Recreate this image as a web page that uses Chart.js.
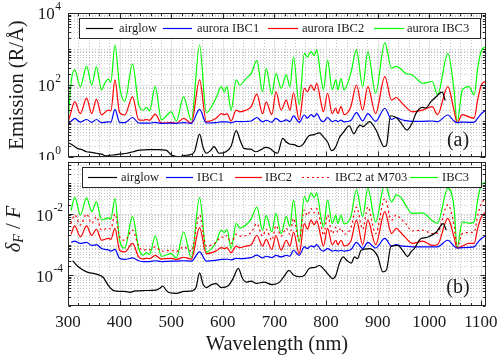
<!DOCTYPE html>
<html lang="en">
<head>
<meta charset="UTF-8">
<title>Emission and relative uncertainty spectra</title>
<script src="https://cdn.jsdelivr.net/npm/chart.js"></script>
<style>
  html, body { margin: 0; padding: 0; background: #fff; }
  #wrap { position: relative; width: 500px; height: 361px; }
  #topWrap { position: absolute; left: 0; top: 0; width: 500px; height: 160px; }
  #botWrap { position: absolute; left: 0; top: 160px; width: 500px; height: 201px; }
</style>
</head>
<body>
<div id="wrap">
  <div id="topWrap"><canvas id="emisChart"></canvas></div>
  <div id="botWrap"><canvas id="dffChart"></canvas></div>
</div>

<script>
// ---- data ----
const xTicks = [300, 400, 500, 600, 700, 800, 900, 1000, 1100];

// wavelength grid shared by the aurora curves (nm)
const wlAurora = [300, 306, 313, 324, 336, 346, 355, 365, 371, 378,
  383, 391, 400, 410, 425, 437, 446, 452, 458, 469,
  481, 500, 510, 524, 539, 555, 568, 587, 597, 603,
  608, 616, 626, 633, 645, 655, 666, 677, 684, 695,
  703, 713, 723, 730, 737, 748, 758, 764, 771, 777,
  782, 790, 795, 803, 812, 819, 823, 829, 835, 848,
  859, 871, 881, 896, 914, 927, 936, 945, 954, 967,
  987, 1006, 1016, 1036, 1048, 1054, 1064, 1077, 1087, 1094,
  1101, 1110];

// panel (a): emission, R/A
const emisIBC3 = [8.8, 120, 262, 90, 336, 100, 320, 73, 110, 146,
  120, 1290, 90, 35, 380, 28, 20, 24, 19, 90,
  10.7, 18, 10, 47, 10.5, 1290, 17, 44, 90, 65,
  90, 20, 138, 100, 150, 210, 475, 65, 290, 55,
  210, 81, 190, 90, 610, 28, 760, 600, 850, 650,
  940, 170, 73, 490, 73, 138, 73, 150, 73, 210,
  940, 90, 850, 59, 1500, 290, 330, 280, 210, 190,
  112, 125, 53, 760, 73, 9, 73, 90, 53, 300,
  900, 1150];
const emisIBC2 = [8.8, 18, 34.5, 16, 43, 16, 40, 14.7, 17, 20,
  19, 138, 17, 14.7, 47, 10.7, 10.5, 11, 10.5, 15.6,
  8.7, 9.2, 8.6, 11.9, 8.7, 138, 9.6, 11.9, 16, 15,
  16, 10, 20, 18, 20, 25, 56, 16, 34, 15,
  65, 20, 38, 20, 61, 10.7, 81, 65, 100, 71,
  112, 34, 18, 59, 16, 23, 16, 25, 15, 25,
  100, 20, 90, 16, 170, 38, 45, 34, 25, 18,
  20, 25, 15, 90, 20, 9, 15, 13, 12, 40,
  100, 128];
const emisIBC1 = [8.6, 9.8, 11.9, 9.3, 11, 9.2, 11, 9, 9.2, 9.5,
  9.3, 21, 9.2, 9, 12.5, 8.8, 8.7, 8.7, 8.7, 9.2,
  8.6, 8.7, 8.6, 9, 8.6, 21, 8.8, 9, 9.5, 9.4,
  9.5, 8.9, 9.8, 9.6, 9.7, 10, 12.5, 9.4, 10.5, 9.3,
  11.9, 9.6, 10.8, 9.6, 13.8, 9.2, 14.7, 12, 15, 13,
  16, 10.5, 9.6, 12.5, 9.6, 10.5, 9.6, 10.6, 9.5, 10.3,
  17, 10, 16, 9.8, 22.6, 11, 12.5, 11, 10.3, 9.8,
  9.8, 10, 9.6, 14.7, 10, 9, 9.3, 9.2, 9.3, 12,
  16, 20];

const wlAirglow = [300, 310, 318, 327, 336, 345, 355, 365, 374, 382,
  391, 400, 414, 426, 439, 458, 475, 490, 500, 508,
  516, 525, 535, 545, 555, 562, 568, 576, 583, 593,
  606, 616, 626, 634, 641, 654, 664, 674, 683, 692,
  699, 706, 716, 723, 729, 738, 748, 755, 761, 767,
  777, 787, 795, 803, 811, 819, 826, 832, 845, 854,
  861, 866, 872, 884, 897, 905, 912, 917, 925, 936,
  945, 957, 963, 967, 974, 986, 993, 1003, 1012, 1025,
  1031];
const emisAirglow = [2.5, 2.1, 1.74, 1.6, 1.4, 1.35, 1.27, 1.2, 1.07, 1.12,
  1.15, 1.2, 1.27, 1.4, 1.56, 1.6, 1.6, 1.56, 1.15, 1.05,
  1.02, 1.1, 1.15, 1.4, 4.3, 1.8, 1.27, 1.5, 1.94, 1.27,
  1.4, 2.0, 5.4, 2.8, 1.74, 1.65, 1.4, 1.6, 1.85, 1.7,
  1.4, 1.27, 3.3, 2.6, 2.3, 2.2, 1.94, 2.2, 3.0, 3.9,
  4.2, 4.7, 3.6, 2.6, 1.5, 1.94, 3.5, 4.5, 7.3, 4.4,
  6.5, 7.7, 7.0, 9.6, 5.6, 3.0, 1.94, 2.1, 14, 12.5,
  9, 5.6, 7, 8.8, 16, 24, 23, 34, 45, 63,
  37];

// panel (b): relative uncertainty dF/F
const dffIBC3 = [null, 0.013, 0.035, 0.0093, 0.034, 0.012, 0.025, 0.0065, 0.0068, 0.0075,
  0.007, 0.032, 0.0014, 0.00078, 0.0082, 0.00075, 0.00046, 0.00055, 0.00048, 0.0019,
  0.00042, 0.00051, 0.00037, 0.0026, 0.00038, 0.035, 0.00058, 0.0012, 0.003, 0.0025,
  0.0032, 0.00075, 0.005, 0.0035, 0.0045, 0.007, 0.017, 0.003, 0.009, 0.0026,
  0.0105, 0.0023, 0.0082, 0.004, 0.029, 0.0012, 0.037, 0.025, 0.048, 0.035,
  0.048, 0.0082, 0.0038, 0.029, 0.0049, 0.009, 0.005, 0.009, 0.0048, 0.008,
  0.062, 0.0082, 0.069, 0.0056, 0.10, 0.025, 0.042, 0.035, 0.02, 0.0105,
  0.011, 0.006, 0.005, 0.069, 0.017, 0.0008, 0.0056, 0.005, 0.0055, 0.03,
  0.09, 0.11];
const dffIBC2 = [null, 0.0022, 0.0041, 0.0018, 0.0041, 0.002, 0.0032, 0.0014, 0.0015, 0.0016,
  0.0015, 0.0034, 0.00066, 0.00058, 0.0011, 0.0004, 0.00034, 0.00036, 0.00035, 0.00045,
  0.00034, 0.00036, 0.00033, 0.00039, 0.00034, 0.0036, 0.00051, 0.00063, 0.0008, 0.00075,
  0.0008, 0.00055, 0.0009, 0.0008, 0.0009, 0.001, 0.002, 0.0009, 0.0015, 0.0007,
  0.002, 0.00066, 0.0014, 0.0009, 0.0026, 0.00051, 0.0049, 0.0032, 0.0063, 0.0045,
  0.006, 0.0018, 0.0009, 0.0034, 0.001, 0.0014, 0.001, 0.0014, 0.00092, 0.0013,
  0.0063, 0.001, 0.0063, 0.001, 0.012, 0.0023, 0.0034, 0.0025, 0.0017, 0.0011,
  0.0013, 0.00095, 0.001, 0.0072, 0.0018, 0.00078, 0.0009, 0.0011, 0.0011, 0.0035,
  0.008, 0.012];
const dffIBC2M703 = [null, 0.005, 0.0093, 0.0044, 0.01, 0.005, 0.0082, 0.003, 0.0032, 0.0035,
  0.0033, 0.01, 0.0018, 0.0014, 0.003, 0.0009, 0.00066, 0.0007, 0.00068, 0.00085,
  0.00062, 0.00065, 0.0006, 0.00085, 0.00062, 0.0093, 0.0009, 0.0012, 0.0018, 0.0017,
  0.002, 0.0011, 0.0022, 0.0019, 0.002, 0.0025, 0.0049, 0.0019, 0.0032, 0.0014,
  0.0042, 0.0019, 0.0034, 0.0022, 0.0072, 0.0014, 0.0135, 0.009, 0.015, 0.011,
  0.015, 0.0049, 0.002, 0.0093, 0.0023, 0.0037, 0.0025, 0.0035, 0.0022, 0.0035,
  0.017, 0.0032, 0.017, 0.0023, 0.032, 0.0063, 0.0093, 0.007, 0.005, 0.0028,
  0.003, 0.0023, 0.0024, 0.02, 0.0045, 0.0008, 0.0023, 0.0025, 0.0026, 0.009,
  0.022, 0.032];
const dffIBC1 = [null, 0.0012, 0.0013, 0.0011, 0.0012, 0.00095, 0.001, 0.00075, 0.0007, 0.00068,
  0.00062, 0.0007, 0.00036, 0.00033, 0.00037, 0.0003, 0.00028, 0.00028, 0.00028, 0.0003,
  0.00028, 0.00029, 0.00029, 0.0003, 0.00029, 0.00058, 0.00029, 0.00031, 0.00033, 0.00033,
  0.00034, 0.00032, 0.00036, 0.00035, 0.00036, 0.00038, 0.00046, 0.00037, 0.00042, 0.00038,
  0.00045, 0.0004, 0.00045, 0.00042, 0.00066, 0.00045, 0.00085, 0.00075, 0.00092, 0.00085,
  0.001, 0.00068, 0.00062, 0.00075, 0.00062, 0.00065, 0.00062, 0.00065, 0.00062, 0.00068,
  0.0012, 0.00075, 0.0012, 0.00078, 0.0016, 0.0009, 0.001, 0.00092, 0.00088, 0.00085,
  0.00085, 0.00085, 0.00085, 0.0014, 0.0009, 0.00078, 0.0008, 0.00082, 0.00085, 0.0012,
  0.0016, 0.002];

const wlAirglowB = [309, 320, 336, 355, 368, 378, 388, 400, 410, 420,
  430, 450, 470, 478, 484, 490, 497, 510, 525, 540,
  548, 555, 562, 568, 578, 587, 597, 610, 620, 630,
  638, 645, 655, 665, 680, 695, 710, 720, 728, 738,
  748, 758, 768, 778, 787, 797, 806, 813, 819, 826,
  833, 841, 849, 855, 861, 868, 884, 900, 910, 917,
  926, 939, 950, 958, 965, 971, 984, 993, 1001, 1014,
  1027, 1033];
const dffAirglow = [0.0003, 0.00019, 0.00013, 0.00011, 0.000087, 0.000047, 0.000032, 0.00003, 0.00003, 0.000028,
  0.000031, 0.000032, 0.000033, 0.000038, 0.000045, 0.000033, 0.000027, 0.000026, 0.00003, 0.000031,
  0.00004, 0.00012, 0.00005, 0.00004, 0.00005, 0.000054, 0.00004, 0.000045, 0.00008, 0.00017,
  0.00008, 0.00006, 0.000065, 0.000055, 0.00006, 0.00005, 0.00006, 0.0001, 0.000145, 0.0001,
  0.00009, 0.0001, 0.00017, 0.00018, 0.00021, 0.00015, 0.0001, 0.000077, 0.0001, 0.00025,
  0.0004, 0.0003, 0.00025, 0.0004, 0.00035, 0.00066, 0.00075, 0.00042, 0.00013, 0.00015,
  0.00089, 0.00095, 0.0006, 0.00041, 0.0006, 0.00075, 0.0016, 0.0017, 0.0019, 0.0026,
  0.0049, 0.003];

// ---- helpers ----
const SERIF = '"Liberation Serif", "Times New Roman", serif';
const INK = '#1a1a1a';

function pts(xs, ys) {
  const out = [];
  xs.forEach((x, i) => { if (ys[i] != null) out.push({ x: x, y: ys[i] }); });
  return out;
}

function series(label, xs, ys, color, dash) {
  return {
    label: label,
    data: pts(xs, ys),
    borderColor: color,
    borderWidth: 1.2,
    borderDash: dash || [],
    pointRadius: 0,
    fill: false,
    cubicInterpolationMode: 'monotone'
  };
}

function drawGrid(chart, cfg) {
  const { ctx, chartArea: a, scales } = chart;
  const xs = scales.x, ys = scales.y;
  ctx.save();
  ctx.lineWidth = 1;
  // minor grid (dotted)
  ctx.strokeStyle = '#c4c4c4';
  ctx.setLineDash([1, 2]);
  ctx.beginPath();
  for (let v = 320; v < 1110; v += 20) {
    if (v % 100 === 0) continue;
    const px = Math.round(xs.getPixelForValue(v)) + 0.5;
    ctx.moveTo(px, a.top); ctx.lineTo(px, a.bottom);
  }
  for (let e = cfg.eMin; e <= cfg.eMax; e++) {
    for (let m = 1; m <= 9; m++) {
      if (m === 1 && cfg.yMajor.includes(e)) continue;
      const v = m * Math.pow(10, e);
      if (v <= ys.min * 1.0001 || v >= ys.max * 0.9999) continue;
      const py = Math.round(ys.getPixelForValue(v)) + 0.5;
      ctx.moveTo(a.left, py); ctx.lineTo(a.right, py);
    }
  }
  ctx.stroke();
  // major grid (solid, light)
  ctx.setLineDash([]);
  ctx.strokeStyle = '#e2e2e2';
  ctx.beginPath();
  xTicks.forEach(v => {
    const px = Math.round(xs.getPixelForValue(v)) + 0.5;
    ctx.moveTo(px, a.top); ctx.lineTo(px, a.bottom);
  });
  cfg.yMajor.forEach(e => {
    const py = Math.round(ys.getPixelForValue(Math.pow(10, e))) + 0.5;
    ctx.moveTo(a.left, py); ctx.lineTo(a.right, py);
  });
  ctx.stroke();
  ctx.restore();
}

function drawFrame(chart, cfg) {
  const { ctx, chartArea: a, scales } = chart;
  const xs = scales.x, ys = scales.y;
  const L = Math.round(a.left) + 0.5, R = Math.round(a.right) - 0.5;
  const T = Math.round(a.top) + 0.5, B = Math.round(a.bottom) - 0.5;
  ctx.save();
  ctx.strokeStyle = '#262626';
  ctx.lineWidth = 1;
  ctx.strokeRect(L, T, R - L, B - T);
  ctx.beginPath();
  for (let v = 300; v <= 1110; v += 20) {
    const len = v % 100 === 0 ? 5 : 2.5;
    const px = Math.round(xs.getPixelForValue(v)) + 0.5;
    ctx.moveTo(px, B); ctx.lineTo(px, B - len);
    ctx.moveTo(px, T); ctx.lineTo(px, T + len);
  }
  for (let e = cfg.eMin; e <= cfg.eMax; e++) {
    for (let m = 1; m <= 9; m++) {
      const v = m * Math.pow(10, e);
      if (v < ys.min * 0.9999 || v > ys.max * 1.0001) continue;
      const len = (m === 1 && cfg.yMajor.includes(e)) ? 5 : 2.5;
      const py = Math.round(ys.getPixelForValue(v)) + 0.5;
      ctx.moveTo(L, py); ctx.lineTo(L + len, py);
      ctx.moveTo(R, py); ctx.lineTo(R - len, py);
    }
  }
  ctx.stroke();

  // y tick labels 10^n
  ctx.fillStyle = INK;
  ctx.textBaseline = 'middle';
  ctx.textAlign = 'right';
  cfg.yMajor.forEach(e => {
    const py = ys.getPixelForValue(Math.pow(10, e));
    const ex = String(e);
    ctx.font = '11.5px ' + SERIF;
    const w = ctx.measureText(ex).width;
    ctx.fillText(ex, cfg.yLabelRight, py - 6);
    ctx.font = '17px ' + SERIF;
    ctx.fillText('10', cfg.yLabelRight - w - 0.5, py + 2);
  });
  ctx.restore();
}

function drawLegend(chart, lg) {
  const { ctx } = chart;
  const ds = chart.data.datasets;
  ctx.save();
  ctx.fillStyle = '#fff';
  ctx.fillRect(lg.box[0], lg.box[1], lg.box[2], lg.box[3]);
  ctx.strokeStyle = '#262626';
  ctx.lineWidth = 1;
  ctx.strokeRect(lg.box[0] + 0.5, lg.box[1] + 0.5, lg.box[2] - 1, lg.box[3] - 1);
  ctx.font = '12.5px ' + SERIF;
  ctx.textBaseline = 'middle';
  ctx.textAlign = 'left';
  lg.items.forEach(it => {
    const d = ds[it.ds];
    ctx.strokeStyle = d.borderColor;
    ctx.lineWidth = 1.2;
    ctx.setLineDash(d.borderDash || []);
    ctx.beginPath();
    ctx.moveTo(it.x0, lg.y + 0.5); ctx.lineTo(it.x1, lg.y + 0.5);
    ctx.stroke();
    ctx.setLineDash([]);
    ctx.fillStyle = INK;
    ctx.fillText(d.label, it.tx, lg.y + 1);
  });
  ctx.restore();
}

function decor(cfg) {
  return {
    id: 'decor',
    beforeDatasetsDraw(chart) { drawGrid(chart, cfg); },
    afterDatasetsDraw(chart) {
      drawFrame(chart, cfg);
      drawLegend(chart, cfg.legend);
      cfg.extra(chart);
    }
  };
}

function baseOptions(pad, yMin, yMax) {
  return {
    responsive: true,
    maintainAspectRatio: false,
    animation: false,
    devicePixelRatio: 1,
    layout: { padding: pad },
    plugins: { legend: { display: false }, tooltip: { enabled: false } },
    scales: {
      x: { type: 'linear', min: 300, max: 1110, display: false },
      y: { type: 'logarithmic', min: yMin, max: yMax, display: false }
    }
  };
}

// ---- panel (a) ----
new Chart(document.getElementById('emisChart'), {
  type: 'line',
  data: {
    datasets: [
      series('airglow', wlAirglow, emisAirglow, '#000000'),
      series('aurora IBC1', wlAurora, emisIBC1, '#0000ff'),
      series('aurora IBC2', wlAurora, emisIBC2, '#ff0000'),
      series('aurora IBC3', wlAurora, emisIBC3, '#00ff00')
    ]
  },
  options: baseOptions({ left: 68, right: 14, top: 13, bottom: 3 }, 1, 10000),
  plugins: [decor({
    eMin: 0, eMax: 4, yMajor: [0, 2, 4], yLabelRight: 61,
    legend: {
      box: [79, 18, 402, 21], y: 28,
      items: [
        { ds: 0, x0: 86, x1: 113, tx: 119 },
        { ds: 1, x0: 163, x1: 192, tx: 197 },
        { ds: 2, x0: 268, x1: 298, tx: 302 },
        { ds: 3, x0: 374, x1: 404, tx: 407 }
      ]
    },
    extra(chart) {
      const ctx = chart.ctx;
      ctx.save();
      ctx.fillStyle = INK;
      ctx.textAlign = 'center';
      ctx.textBaseline = 'middle';
      ctx.font = '20px ' + SERIF;
      ctx.fillText('(a)', 458, 141);
      ctx.translate(18, 85);
      ctx.rotate(-Math.PI / 2);
      ctx.font = '20.5px ' + SERIF;
      ctx.fillText('Emission (R/Å)', 0, 0);
      ctx.restore();
    }
  })]
});

// ---- panel (b) ----
new Chart(document.getElementById('dffChart'), {
  type: 'line',
  data: {
    datasets: [
      series('airglow', wlAirglowB, dffAirglow, '#000000'),
      series('IBC1', wlAurora, dffIBC1, '#0000ff'),
      series('IBC2', wlAurora, dffIBC2, '#ff0000'),
      series('IBC2 at M703', wlAurora, dffIBC2M703, '#ff0000', [2, 3]),
      series('IBC3', wlAurora, dffIBC3, '#00ff00')
    ]
  },
  options: baseOptions({ left: 68, right: 14, top: 2, bottom: 55 }, 1e-5, 0.5),
  plugins: [decor({
    eMin: -5, eMax: -1, yMajor: [-4, -2], yLabelRight: 63,
    legend: {
      box: [82, 7, 400, 21], y: 17,
      items: [
        { ds: 0, x0: 88, x1: 117, tx: 121 },
        { ds: 1, x0: 166, x1: 193, tx: 197 },
        { ds: 2, x0: 235, x1: 262, tx: 265 },
        { ds: 3, x0: 302, x1: 332, tx: 335 },
        { ds: 4, x0: 410, x1: 438, tx: 442 }
      ]
    },
    extra(chart) {
      const { ctx, chartArea: a, scales } = chart;
      ctx.save();
      ctx.fillStyle = INK;
      ctx.textAlign = 'center';
      ctx.textBaseline = 'middle';
      ctx.font = '20px ' + SERIF;
      ctx.fillText('(b)', 458, 128);
      // x tick labels
      ctx.font = '17px ' + SERIF;
      xTicks.forEach(v => ctx.fillText(String(v), scales.x.getPixelForValue(v), 163));
      ctx.font = '20.5px ' + SERIF;
      ctx.fillText('Wavelength (nm)', (a.left + a.right) / 2, 185);
      // y title: delta_F / F
      ctx.translate(15, 69);
      ctx.rotate(-Math.PI / 2);
      const parts = [
        { t: '\u03b4', f: 'italic 20.5px ' + SERIF, dy: 0 },
        { t: 'F', f: 'italic 14px ' + SERIF, dy: 4 },
        { t: ' / ', f: '20.5px ' + SERIF, dy: 0 },
        { t: 'F', f: 'italic 20.5px ' + SERIF, dy: 0 }
      ];
      let total = 0;
      parts.forEach(p => { ctx.font = p.f; p.w = ctx.measureText(p.t).width; total += p.w; });
      ctx.textAlign = 'left';
      let cx = -total / 2;
      parts.forEach(p => { ctx.font = p.f; ctx.fillText(p.t, cx, p.dy); cx += p.w; });
      ctx.restore();
    }
  })]
});
</script>
</body>
</html>
